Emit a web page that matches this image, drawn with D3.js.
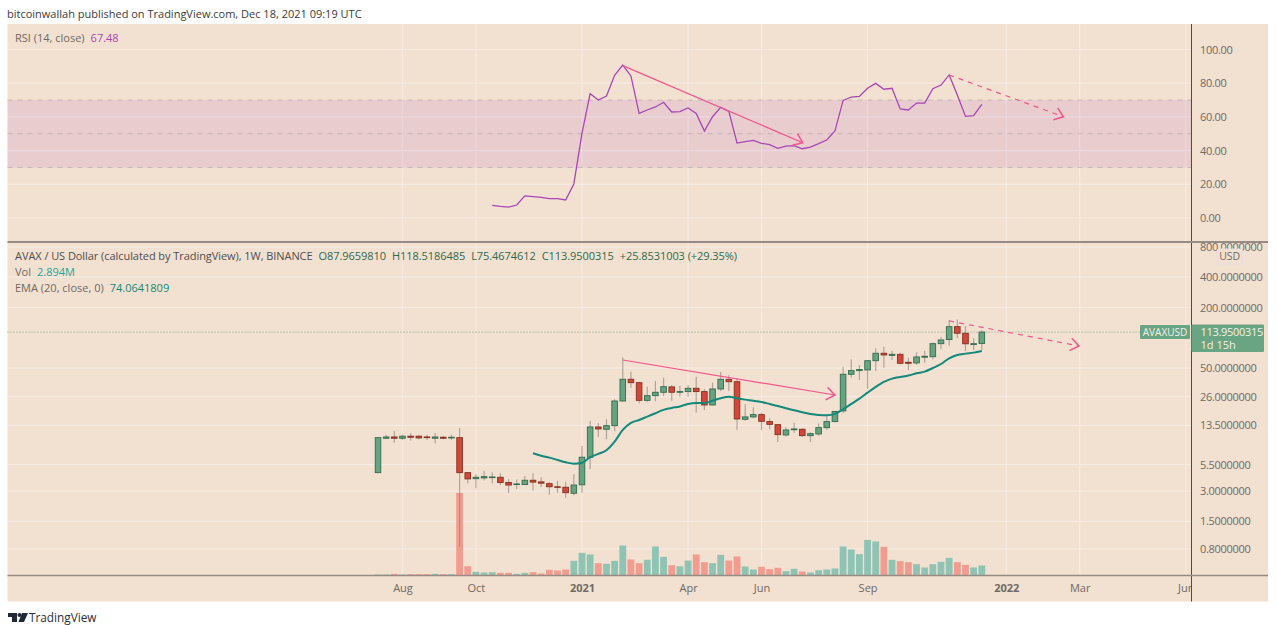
<!DOCTYPE html>
<html>
<head>
<meta charset="utf-8">
<script src="https://cdn.jsdelivr.net/npm/d3@7"></script>
<style>
  html, body { margin: 0; padding: 0; background: #fff; overflow: hidden; }
  svg { display: block; }
  text { font-family: "Open Sans", sans-serif; }
  .domain { display: none; }
  .tick line { display: none; }
</style>
</head>
<body>
<svg id="chart" width="1278" height="625"></svg>
<script>
// weekly AVAX candles
const opens = [4.57,10.04,10.34,10.04,10.52,10.52,10.34,10.04,10.27,10.11,
  10.18,4.57,3.98,4.05,4.08,4.11,3.65,3.48,3.48,3.84,
  3.70,3.55,3.31,3.27,2.85,3.46,6.50,13.0,12.33,13.39,
  23.55,38.7,35.8,23.9,26.6,28.75,32.5,28.75,29.2,31.5,
  29.2,21.5,31.0,38.7,36.6,15.5,16.36,17.25,14.7,13.7,
  10.83,12.2,12.33,10.66,11.08,12.8,14.7,18.77,43.4,47.2,
  47.9,59.2,70.2,66.9,68.5,57.1,56.3,64.1,64.9,87.4,
  96,129,111,85.8,87.97];
const closes = [10.18,10.34,10.04,10.52,10.27,10.11,10.18,10.34,10.04,10.27,
  4.57,3.96,4.11,4.17,4.14,3.65,3.44,3.53,3.84,3.68,
  3.59,3.31,3.27,2.89,3.44,6.50,13.0,12.42,13.39,23.55,
  38.7,35.8,23.9,26.6,28.75,32.7,28.75,29.2,31.5,29.2,
  21.5,31.0,38.7,36.6,15.6,16.36,17.25,14.8,13.8,10.9,
  12.14,12.42,10.66,11.15,12.8,14.7,18.5,43.4,47.2,48.4,
  59.2,70.2,67.5,68.5,55.8,55.8,64.5,65.5,87.4,95.1,
  129,111,87.2,87.4,113.95];
const highs = [10.18,10.9,11.87,10.9,11.25,10.83,10.9,11.33,10.66,10.9,
  12.71,4.65,4.41,4.78,4.6,4.50,3.93,3.90,4.23,4.50,
  4.11,3.68,3.78,3.72,4.41,8.42,14.92,14.26,15.5,24.5,
  64.1,46.1,36.6,32.7,37.2,40.2,34,33.3,34,41.1,
  31,35.8,45.6,42.5,39.8,21.8,20.4,18.05,15.9,13.9,
  12.9,14.35,12.65,11.5,14.1,16.7,18.77,51.65,61.2,53.7,
  59.2,78.7,81.6,74.5,71.2,63.5,71.8,74.5,89.2,102,
  150.3,152,131,99,118.52];
const lows = [4.57,9.95,9.08,9.66,9.5,9.81,9.66,8.88,9.81,9.66,
  0.84,3.59,3.20,3.81,3.59,3.44,2.88,3.15,3.44,3.03,
  3.29,2.75,2.89,2.58,2.73,2.89,4.97,10.34,9.81,11.77,
  23.2,31.95,22.4,23.2,23.4,26.4,23.7,25.9,25.9,18.05,
  19.2,21.2,29.6,29.6,12.14,15.0,15.9,12.14,12.3,9.23,
  10.4,11.4,10.34,9.23,10.58,12.14,14.5,17.8,40.2,38.1,
  31,46.8,50.5,60.2,54.6,47.9,53.7,56.6,61.2,76.9,
  83.3,99.6,74,75.7,75.47];
// volume in millions
const volumes = [.29,.29,.48,.29,.39,.39,.39,.48,.39,.39,
  23.9,2.7,1.06,.87,.97,.77,.77,.48,.77,.97,
  .58,1.64,1.45,1.74,4.25,6.56,6.08,3.57,3.38,4.25,
  8.69,4.63,3.57,4.54,8.40,5.40,2.99,2.65,4.34,6.08,
  3.86,3.57,5.98,4.34,5.50,2.61,1.74,2.51,1.83,2.22,
  1.25,1.93,1.16,.87,1.54,1.74,2.03,8.40,7.53,6.18,
  10.3,9.84,8.30,4.54,4.15,3.86,3.28,2.32,3.28,3.96,
  5.11,3.86,3.09,2.32,2.894];
const emaStart = 19;
const emaValues = [7.12,6.74,6.44,6.11,5.80,5.61,5.74,6.50,7.01,7.63,
  9.29,12.14,14.25,15.26,16.47,17.8,19.2,20.07,20.8,21.99,
  22.5,22.5,23.7,25.06,26.0,25.06,24.3,23.7,23.0,21.99,
  21.0,19.94,19.07,18.2,17.52,17.13,17.0,17.52,19.5,22.0,
  24.84,28.5,32.5,36.4,39.3,40.8,42.1,44.4,46.1,50.1,
  54.9,62.6,67.5,69.6,71.2,74.06];
const rsiStart = 14;
const rsiValues = [7.5,6.9,6.5,7.7,13.1,12.7,12.3,11.5,11.5,10.7,
  20.2,50.2,73.8,70.0,72.4,84.7,90.7,84.3,62.1,64.1,
  65.9,68.7,62.9,63.1,65.3,62.1,51.6,60.1,65.7,63.3,
  44.5,45.3,46.1,44.3,43.5,41.3,42.7,42.9,41.1,42.1,
  44.1,46.3,51.6,69.8,71.8,72.2,77.0,79.9,76.4,77.0,
  64.7,64.1,68.2,68.2,76.7,78.9,84.9,73.0,60.3,60.7,67.48];

const timeTicks = [3, 12, 25, 38, 47, 60, 77, 86, 99];
const timeLabels = ['Aug', 'Oct', '2021', 'Apr', 'Jun', 'Sep', '2022', 'Mar', 'Jun'];
const priceTicks = [800, 400, 200, 50, 26, 13.5, 5.5, 3, 1.5, 0.8];
const rsiTicks = [100, 80, 60, 40, 20, 0];
const lastPrice = 113.9500315;

// drawn trend lines as [week index, value]
const priceTrend = [[30, 60.2], [56, 27]];
const priceTrendDashed = [[70, 147], [85.9, 82.9]];
const rsiTrend = [[30, 90.4], [52.05, 44.7]];
const rsiTrendDashed = [[70, 84.9], [84, 60.1]];

const panel = { left: 7.5, right: 1268, top: 24, bottom: 601.5 };
const axisX = 1191.5, paneSplit = 242, volBase = 575.5;
const BG = '#f2e0d0', GRID = '#f5ebe2', PINK = '#f2558c';
const UP = '#68a381', UP_EDGE = '#2f6b4f', DOWN = '#d2473a', DOWN_EDGE = '#85301f';
const LABEL = '#6f6a66', GREEN_TEXT = '#2c6b4e', TEAL = '#12897a', PURPLE = '#a846b8';

const svg = d3.select('#chart');

const x = d3.scaleLinear().domain([0, 74]).range([378, 981.8]);
const price = d3.scaleLog().domain([0.8, 200]).range([548.8, 307.5]);
const rsi = d3.scaleLinear().domain([0, 100]).range([218, 49.5]);
const vol = d3.scaleLinear().domain([0, 30]).range([volBase, volBase - 103.6]);

svg.append('defs').append('clipPath').attr('id', 'plotClip')
  .append('rect').attr('x', panel.left).attr('y', panel.top)
  .attr('width', axisX - panel.left).attr('height', panel.bottom - panel.top);

const marker = svg.select('defs').append('marker')
  .attr('id', 'chevron').attr('markerUnits', 'userSpaceOnUse')
  .attr('markerWidth', 14).attr('markerHeight', 14)
  .attr('refX', 7).attr('refY', 5).attr('orient', 'auto').attr('viewBox', '0 0 10 10');
marker.append('path').attr('d', 'M1,0.5 L7,5 L1,9.5')
  .attr('fill', 'none').attr('stroke', PINK).attr('stroke-width', 1.1);

svg.append('rect')
  .attr('x', panel.left).attr('y', panel.top)
  .attr('width', panel.right - panel.left).attr('height', panel.bottom - panel.top)
  .attr('fill', BG);

// grid
const grid = svg.append('g').attr('stroke', GRID).attr('stroke-width', 1.2);
grid.selectAll('.v').data(timeTicks).enter().append('line')
  .attr('x1', d => x(d)).attr('x2', d => x(d))
  .attr('y1', panel.top).attr('y2', volBase);
grid.selectAll('.r').data(rsiTicks).enter().append('line')
  .attr('x1', panel.left).attr('x2', axisX)
  .attr('y1', d => rsi(d)).attr('y2', d => rsi(d));
grid.selectAll('.p').data(priceTicks).enter().append('line')
  .attr('x1', panel.left).attr('x2', axisX)
  .attr('y1', d => price(d)).attr('y2', d => price(d));

// rsi band
svg.append('rect')
  .attr('x', panel.left).attr('width', axisX - panel.left)
  .attr('y', rsi(70)).attr('height', rsi(30) - rsi(70))
  .attr('fill', '#a02ac0').attr('fill-opacity', 0.1);
svg.selectAll('.level').data([70, 50, 30]).enter().append('line')
  .attr('x1', panel.left).attr('x2', axisX)
  .attr('y1', d => rsi(d)).attr('y2', d => rsi(d))
  .attr('stroke', '#8f8a92').attr('stroke-opacity', 0.4)
  .attr('stroke-dasharray', '5,5').attr('stroke-width', 1);

// rsi line
const rsiLine = d3.line().x((d, i) => x(i + rsiStart)).y(d => rsi(d));
svg.append('path').attr('d', rsiLine(rsiValues))
  .attr('fill', 'none').attr('stroke', PURPLE).attr('stroke-width', 1.3);

// volume
const indexes = d3.range(opens.length);
svg.selectAll('.vol').data(indexes).enter().append('rect')
  .attr('x', i => x(i) - 3.4).attr('width', 6.8)
  .attr('y', i => vol(volumes[i]))
  .attr('height', i => volBase - vol(volumes[i]))
  .attr('fill', i => closes[i] >= opens[i] ? '#8fc4b4' : '#f29c90');

// last price dotted line
svg.append('line')
  .attr('x1', panel.left).attr('x2', 1140)
  .attr('y1', price(lastPrice)).attr('y2', price(lastPrice))
  .attr('stroke', '#7fa98a').attr('stroke-dasharray', '1,2').attr('stroke-width', 1);

// candles
const candle = svg.selectAll('.candle').data(indexes).enter().append('g');
candle.append('line')
  .attr('x1', i => x(i)).attr('x2', i => x(i))
  .attr('y1', i => price(highs[i])).attr('y2', i => price(lows[i]))
  .attr('stroke', '#8c857f').attr('stroke-opacity', 0.65).attr('stroke-width', 1.2);
candle.append('rect')
  .attr('x', i => x(i) - 2.8).attr('width', 5.6)
  .attr('y', i => price(Math.max(opens[i], closes[i])))
  .attr('height', i => Math.max(0.6, Math.abs(price(opens[i]) - price(closes[i]))))
  .attr('fill', i => closes[i] >= opens[i] ? UP : DOWN)
  .attr('stroke', i => closes[i] >= opens[i] ? UP_EDGE : DOWN_EDGE)
  .attr('stroke-width', 0.9);

// ema
const emaLine = d3.line().x((d, i) => x(i + emaStart)).y(d => price(d)).curve(d3.curveMonotoneX);
svg.append('path').attr('d', emaLine(emaValues))
  .attr('fill', 'none').attr('stroke', TEAL).attr('stroke-width', 2);

// trend lines
const drawTrend = (points, yScale, dashed) => {
  svg.append('path')
    .attr('d', d3.line().x(d => x(d[0])).y(d => yScale(d[1]))(points))
    .attr('fill', 'none').attr('stroke', PINK).attr('stroke-width', 1.2)
    .attr('stroke-dasharray', dashed ? '5,5' : null)
    .attr('marker-end', 'url(#chevron)');
};
drawTrend(priceTrend, price, false);
drawTrend(priceTrendDashed, price, true);
drawTrend(rsiTrend, rsi, false);
drawTrend(rsiTrendDashed, rsi, true);

// axes
const rsiAxis = svg.append('g').attr('transform', `translate(${axisX + 8.5},0)`)
  .call(d3.axisRight(rsi).tickValues(rsiTicks).tickSize(0).tickPadding(0).tickFormat(d3.format('.2f')));
const priceAxis = svg.append('g').attr('transform', `translate(${axisX + 8.5},0)`)
  .call(d3.axisRight(price).tickValues(priceTicks).tickSize(0).tickPadding(0).tickFormat(d3.format('.7f')));
// the clip sits on a wrapper so the axis translate does not shift it
const timeAxis = svg.append('g').attr('clip-path', 'url(#plotClip)')
  .append('g').attr('transform', `translate(0,${volBase + 6})`)
  .call(d3.axisBottom(x).tickValues(timeTicks).tickSize(0).tickPadding(3)
    .tickFormat((d, i) => timeLabels[i]));
svg.selectAll('.tick text').attr('fill', LABEL).style('font-size', '11px')
  .style('letter-spacing', '-0.3px')
  .style('font-family', '"Open Sans", sans-serif');
timeAxis.selectAll('.tick text')
  .style('letter-spacing', '0')
  .style('font-weight', (d, i) => /^\d/.test(timeLabels[i]) ? 700 : 400);

// frame lines
svg.append('line').attr('x1', axisX).attr('x2', axisX)
  .attr('y1', panel.top).attr('y2', panel.bottom)
  .attr('stroke', '#4f4b48').attr('stroke-width', 1);
svg.append('line').attr('x1', panel.left).attr('x2', panel.right)
  .attr('y1', paneSplit).attr('y2', paneSplit)
  .attr('stroke', '#978c83').attr('stroke-width', 1.8);
svg.append('line').attr('x1', panel.left).attr('x2', panel.right)
  .attr('y1', volBase).attr('y2', volBase)
  .attr('stroke', '#978c83').attr('stroke-width', 1.5);

// currency badge
const usd = svg.append('g');
usd.append('rect').attr('x', 1217).attr('y', 249).attr('width', 25.5).attr('height', 15)
  .attr('rx', 2).attr('fill', BG).attr('stroke', '#e6dde0');
usd.append('text').attr('x', 1229.7).attr('y', 260).attr('text-anchor', 'middle')
  .attr('fill', LABEL).style('font-size', '10.5px').text('USD');

// last price labels
const tag = svg.append('g');
tag.append('rect').attr('x', 1140).attr('y', 325).attr('width', 50).attr('height', 14)
  .attr('rx', 1).attr('fill', '#6aa583');
tag.append('text').attr('x', 1165).attr('y', 336).attr('text-anchor', 'middle')
  .attr('fill', '#f4efe8').style('font-size', '10px').text('AVAXUSD');
tag.append('rect').attr('x', axisX).attr('y', 324.5).attr('width', 72.5).attr('height', 27.5)
  .attr('rx', 1).attr('fill', '#6aa583');
tag.append('text').attr('x', 1200.5).attr('y', 336).attr('fill', '#f4efe8')
  .style('font-size', '11px').style('letter-spacing', '-0.3px').text(d3.format('.7f')(lastPrice));
tag.append('text').attr('x', 1200.5).attr('y', 349).attr('fill', '#f4efe8')
  .style('font-size', '11px').text('1d 15h');

// legends
const legendText = (xPos, yPos, parts, spacing) => {
  const t = svg.append('text').attr('x', xPos).attr('y', yPos).style('font-size', '11px')
    .style('letter-spacing', spacing || '0');
  parts.forEach(p => t.append('tspan').attr('fill', p[1]).attr('dx', p[2] || 0).text(p[0]));
};
legendText(7, 17.5, [['bitcoinwallah published on TradingView.com, Dec 18, 2021 09:19 UTC', '#3a3a3a']]);
legendText(15, 42, [['RSI (14, close)', LABEL], ['67.48', PURPLE, 6]]);
legendText(15, 260, [
  ['AVAX / US Dollar (calculated by TradingView), 1W, BINANCE', '#4f4f4f'],
  ['O87.9659810', GREEN_TEXT, 6], ['H118.5186485', GREEN_TEXT, 6],
  ['L75.4674612', GREEN_TEXT, 6], ['C113.9500315', GREEN_TEXT, 6],
  ['+25.8531003 (+29.35%)', GREEN_TEXT, 6]], '-0.06px');
legendText(15, 276, [['Vol', LABEL], ['2.894M', '#26a69a', 6]]);
legendText(15, 292, [['EMA (20, close, 0)', LABEL], ['74.0641809', TEAL, 6]]);

// tradingview mark
const logo = svg.append('g').attr('fill', '#1f2a36');
logo.append('path').attr('d', 'M8,613 H17 V622 H12 V617 H8 Z');
logo.append('circle').attr('cx', 19.5).attr('cy', 615).attr('r', 2);
logo.append('path').attr('d', 'M22,613 H28 L24,622 H18.5 Z');
svg.append('text').attr('x', 29).attr('y', 622).attr('fill', '#2a2e39')
  .style('font-size', '11.8px').text('TradingView');
</script>
</body>
</html>
